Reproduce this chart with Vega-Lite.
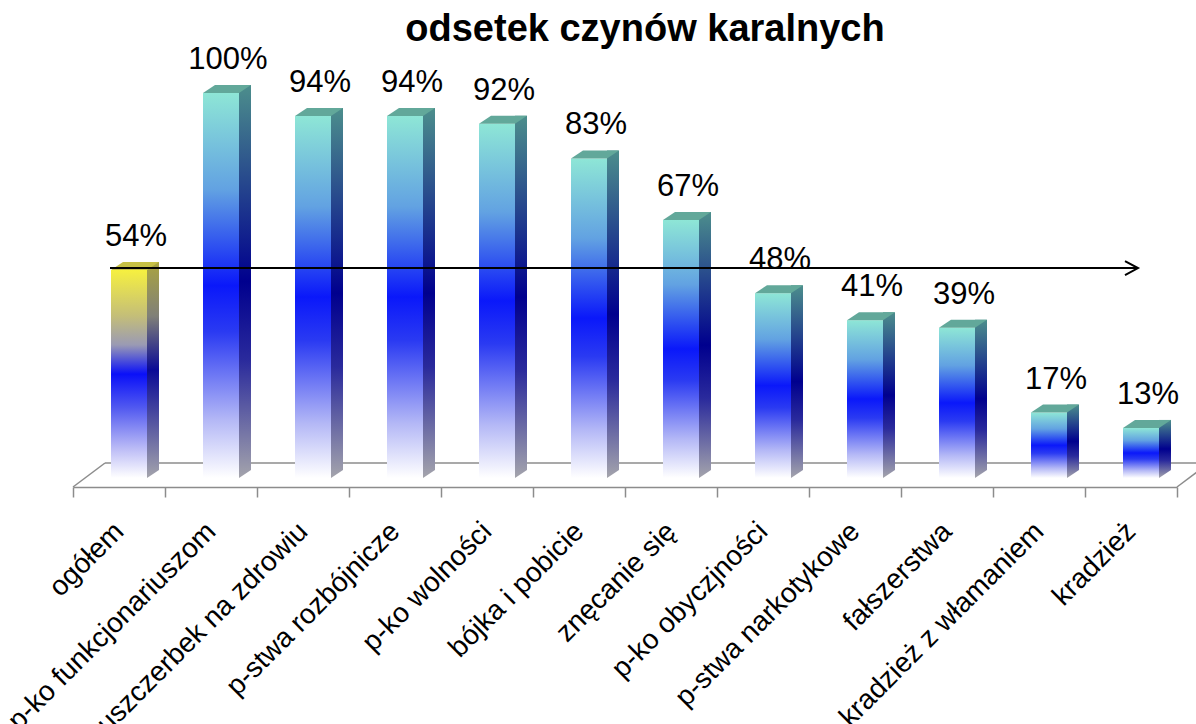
{
  "$schema": "https://vega.github.io/schema/vega-lite/v6.json",
  "width": 1104,
  "height": 394,
  "autosize": "none",
  "padding": {"left": 73, "top": 93, "right": 19, "bottom": 237},
  "background": "white",
  "config": {"view": {"stroke": null}, "font": "Liberation Sans"},
  "title": {"text": "odsetek czynów karalnych", "fontSize": 38, "fontWeight": "bold", "font": "Liberation Sans", "color": "black", "anchor": "middle", "frame": "group", "dx": 20, "offset": -35, "baseline": "alphabetic"},
  "data": {"values": [
    {"kat": "ogółem", "v": 54},
    {"kat": "p-ko funkcjonariuszom", "v": 100},
    {"kat": "uszczerbek na zdrowiu", "v": 94},
    {"kat": "p-stwa rozbójnicze", "v": 94},
    {"kat": "p-ko wolności", "v": 92},
    {"kat": "bójka i pobicie", "v": 83},
    {"kat": "znęcanie się", "v": 67},
    {"kat": "p-ko obyczjności", "v": 48},
    {"kat": "p-stwa narkotykowe", "v": 41},
    {"kat": "fałszerstwa", "v": 39},
    {"kat": "kradzież z włamaniem", "v": 17},
    {"kat": "kradzież", "v": 13}
  ]},
  "layer": [
    {
      "data": {"values": [{}]},
      "mark": {"type": "rule", "color": "#8c8c8c", "strokeWidth": 1.5, "xOffset": -14, "x2Offset": 80},
      "encoding": {
        "x": {"datum": "ogółem", "type": "nominal"},
        "x2": {"datum": "kradzież"},
        "y": {"datum": 3.9, "type": "quantitative", "scale": {"domain": [-2.34, 100], "nice": false, "zero": false}, "axis": null}
      }
    },
    {
      "data": {"values": [{}]},
      "mark": {"type": "point", "shape": "M0,0 L32,-24", "size": 4, "filled": false, "stroke": "#8c8c8c", "strokeWidth": 1.5, "opacity": 1, "xOffset": -46},
      "encoding": {
        "x": {"datum": "ogółem", "type": "nominal"},
        "y": {"datum": -2.34, "type": "quantitative", "axis": null}
      }
    },
    {
      "data": {"values": [{}]},
      "mark": {"type": "point", "shape": "M0,0 L32,-24", "size": 4, "filled": false, "stroke": "#8c8c8c", "strokeWidth": 1.5, "opacity": 1, "xOffset": 46},
      "encoding": {
        "x": {"datum": "kradzież", "type": "nominal"},
        "y": {"datum": -2.34, "type": "quantitative", "axis": null}
      }
    },
    {
      "transform": [{"filter": "datum.kat !== 'ogółem'"}],
      "mark": {"type": "bar", "width": 12, "xOffset": 34, "yOffset": -8,
        "fill": {"gradient": "linear", "x1": 0, "y1": 0, "x2": 0, "y2": 1, "stops": [
          {"offset": 0, "color": "#4c8e8c"}, {"offset": 0.5, "color": "#00008e"}, {"offset": 0.7, "color": "#2a2a9c"}, {"offset": 1, "color": "#a4a4ac"}]}},
      "encoding": {
        "x": {"field": "kat", "type": "nominal",
          "scale": {"domain": ["ogółem", "p-ko funkcjonariuszom", "uszczerbek na zdrowiu", "p-stwa rozbójnicze", "p-ko wolności", "bójka i pobicie", "znęcanie się", "p-ko obyczjności", "p-stwa narkotykowe", "fałszerstwa", "kradzież z włamaniem", "kradzież"], "paddingInner": 0, "paddingOuter": 0},
          "axis": {"title": null, "domainColor": "#8c8c8c", "domainWidth": 1.5, "tickColor": "#8c8c8c", "tickWidth": 1.5, "tickSize": 10, "tickBand": "extent", "labelAngle": -45, "labelAlign": "right", "labelBaseline": "middle", "labelFontSize": 28, "labelFont": "Liberation Sans", "labelColor": "black", "labelPadding": 30, "labelOverlap": false, "labelLimit": 0, "labelBound": false, "labelFlush": false}},
        "y": {"field": "v", "type": "quantitative", "axis": null},
        "y2": {"datum": 0}
      }
    },
    {
      "transform": [{"filter": "datum.kat === 'ogółem'"}],
      "mark": {"type": "bar", "width": 12, "xOffset": 34, "yOffset": -8,
        "fill": {"gradient": "linear", "x1": 0, "y1": 0, "x2": 0, "y2": 1, "stops": [
          {"offset": 0, "color": "#aaa440"}, {"offset": 0.25, "color": "#808078"}, {"offset": 0.5, "color": "#0a0a96"}, {"offset": 1, "color": "#a4a4ac"}]}},
      "encoding": {
        "x": {"field": "kat", "type": "nominal"},
        "y": {"field": "v", "type": "quantitative", "axis": null},
        "y2": {"datum": 0}
      }
    },
    {
      "mark": {"type": "point", "shape": "M0,0 L12,-8 L13,1 L0,1 Z", "size": 4, "filled": true, "color": "white", "opacity": 1, "xOffset": 28},
      "encoding": {
        "x": {"field": "kat", "type": "nominal"},
        "y": {"datum": 0, "type": "quantitative", "axis": null}
      }
    },
    {
      "transform": [{"filter": "datum.kat !== 'ogółem'"}],
      "mark": {"type": "bar", "width": 36, "xOffset": 10,
        "fill": {"gradient": "linear", "x1": 0, "y1": 0, "x2": 0, "y2": 1, "stops": [
          {"offset": 0, "color": "#8ee6d6"}, {"offset": 0.25, "color": "#62a2e2"}, {"offset": 0.5, "color": "#0a18fa"}, {"offset": 0.62, "color": "#2a3af2"}, {"offset": 0.85, "color": "#b4b8f6"}, {"offset": 1, "color": "#ffffff"}]}},
      "encoding": {
        "x": {"field": "kat", "type": "nominal"},
        "y": {"field": "v", "type": "quantitative", "axis": null},
        "y2": {"datum": 0}
      }
    },
    {
      "transform": [{"filter": "datum.kat === 'ogółem'"}],
      "mark": {"type": "bar", "width": 36, "xOffset": 10,
        "fill": {"gradient": "linear", "x1": 0, "y1": 0, "x2": 0, "y2": 1, "stops": [
          {"offset": 0, "color": "#f6f040"}, {"offset": 0.22, "color": "#c4be78"}, {"offset": 0.36, "color": "#9a9ab4"}, {"offset": 0.5, "color": "#0a10f8"}, {"offset": 0.66, "color": "#5058f0"}, {"offset": 0.86, "color": "#bcbcf6"}, {"offset": 1, "color": "#ffffff"}]}},
      "encoding": {
        "x": {"field": "kat", "type": "nominal"},
        "y": {"field": "v", "type": "quantitative", "axis": null},
        "y2": {"datum": 0}
      }
    },
    {
      "mark": {"type": "point", "shape": "M-18,0 L18,0 L30,-8 L-6,-8 Z", "size": 4, "filled": true, "opacity": 1, "xOffset": 10},
      "encoding": {
        "x": {"field": "kat", "type": "nominal"},
        "y": {"field": "v", "type": "quantitative", "axis": null},
        "color": {"condition": {"test": "datum.kat === 'ogółem'", "value": "#c6c046"}, "value": "#62a89a"}
      }
    },
    {
      "data": {"values": [{}]},
      "mark": {"type": "rule", "color": "black", "strokeWidth": 2, "xOffset": -9, "x2Offset": 7, "yOffset": -2},
      "encoding": {
        "x": {"datum": "ogółem", "type": "nominal"},
        "x2": {"datum": "kradzież"},
        "y": {"datum": 54, "type": "quantitative", "axis": null}
      }
    },
    {
      "data": {"values": [{}]},
      "mark": {"type": "point", "shape": "M-13,-7 L0,0 L-13,7", "size": 4, "filled": false, "stroke": "black", "strokeWidth": 2, "opacity": 1, "xOffset": 7, "yOffset": -2},
      "encoding": {
        "x": {"datum": "kradzież", "type": "nominal"},
        "y": {"datum": 54, "type": "quantitative", "axis": null}
      }
    },
    {
      "transform": [{"calculate": "datum.v + '%'", "as": "lab"}],
      "mark": {"type": "text", "fontSize": 31, "font": "Liberation Sans", "color": "black", "xOffset": 17, "dy": -24, "baseline": "alphabetic", "align": "center"},
      "encoding": {
        "x": {"field": "kat", "type": "nominal"},
        "y": {"field": "v", "type": "quantitative", "axis": null},
        "text": {"field": "lab"}
      }
    }
  ]
}
